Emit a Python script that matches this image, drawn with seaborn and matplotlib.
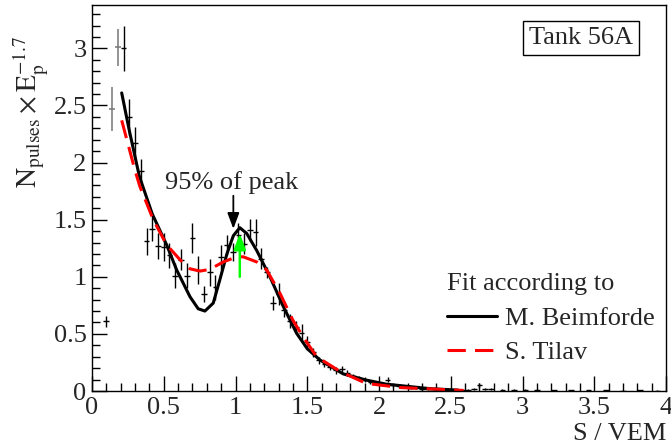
import numpy as np
import pandas as pd
import seaborn as sns
import matplotlib.pyplot as plt
from matplotlib.ticker import MultipleLocator

# ---------------- data ----------------
bin_x = [0.10, 0.22, 0.26, 0.30, 0.34, 0.38, 0.42, 0.46, 0.50, 0.54, 0.58, 0.62,
         0.66, 0.70, 0.74, 0.78, 0.82, 0.86, 0.90, 0.94, 0.98, 1.02, 1.06, 1.10,
         1.14, 1.18, 1.22, 1.26, 1.30, 1.34, 1.38, 1.42, 1.46, 1.50, 1.54, 1.58,
         1.62, 1.66, 1.70, 1.74, 1.78, 1.82, 1.86, 1.90, 1.94, 1.98, 2.02, 2.06,
         2.10, 2.14, 2.18, 2.22, 2.26, 2.30, 2.34, 2.38, 2.42, 2.46, 2.50, 2.54,
         2.58, 2.62, 2.66, 2.70, 2.74, 2.78, 2.86, 2.94, 3.02, 3.10, 3.22, 3.34,
         3.46, 3.58, 3.70, 3.82, 3.94]
bin_y = [0.61, 3.00, 2.40, 2.17, 1.93, 1.31, 1.42, 1.27, 1.26, 1.19, 1.01, 1.15,
         1.01, 1.34, 1.06, 0.85, 1.04, 0.91, 1.17, 1.28, 1.22, 1.37, 1.29, 1.41,
         1.39, 1.16, 1.04, 0.77, 0.85, 0.71, 0.61, 0.56, 0.51, 0.43, 0.34, 0.27,
         0.24, 0.21, 0.18, 0.19, 0.16, 0.13, 0.11, 0.10, 0.08, 0.07, 0.06, 0.10,
         0.05, 0.04, 0.035, 0.03, 0.025, 0.02, 0.02, 0.015, 0.015, 0.01, 0.01, 0.01,
         0.008, 0.012, 0.02, 0.05, 0.02, 0.015, 0.01, 0.012, 0.008, 0.01, 0.006, 0.008,
         0.005, 0.006, 0.004, 0.005, 0.004]
bin_err = [0.05, 0.20, 0.16, 0.14, 0.10, 0.12, 0.11, 0.11, 0.12, 0.11, 0.11, 0.09,
           0.11, 0.13, 0.12, 0.07, 0.12, 0.11, 0.11, 0.09, 0.08, 0.10, 0.09, 0.10,
           0.12, 0.09, 0.05, 0.06, 0.10, 0.06, 0.06, 0.05, 0.08, 0.05, 0.04, 0.03,
           0.03, 0.03, 0.03, 0.03, 0.025, 0.02, 0.02, 0.02, 0.02, 0.015, 0.015, 0.02,
           0.012, 0.01, 0.01, 0.01, 0.01, 0.008, 0.008, 0.008, 0.008, 0.006, 0.006, 0.006,
           0.006, 0.008, 0.01, 0.02, 0.01, 0.008, 0.006, 0.008, 0.006, 0.006, 0.005, 0.005,
           0.004, 0.004, 0.004, 0.004, 0.004]

grey_x = [0.14, 0.18]
grey_y = [2.47, 3.01]
grey_err = [0.19, 0.16]

beim_x = [0.207, 0.26, 0.33, 0.42, 0.52, 0.59, 0.683, 0.74, 0.787, 0.845, 0.89,
          0.94, 0.985, 1.03, 1.078, 1.148, 1.24, 1.333, 1.426, 1.50, 1.59, 1.75,
          1.91, 2.05, 2.22, 2.36, 2.55]
beim_y = [2.61, 2.28, 1.88, 1.55, 1.28, 1.06, 0.825, 0.72, 0.70, 0.77, 0.97,
          1.20, 1.36, 1.43, 1.38, 1.23, 1.00, 0.74, 0.505, 0.37, 0.27, 0.15,
          0.096, 0.06, 0.038, 0.02, 0.008]

tilav_x = [0.207, 0.30, 0.334, 0.427, 0.52, 0.613, 0.683, 0.753, 0.82, 0.915,
           1.008, 1.054, 1.148, 1.217, 1.31, 1.40, 1.47, 1.566, 1.73, 1.91,
           2.15, 2.33, 2.59]
tilav_y = [2.37, 1.93, 1.79, 1.50, 1.28, 1.15, 1.07, 1.05, 1.065, 1.13,
           1.175, 1.175, 1.13, 1.06, 0.855, 0.62, 0.475, 0.30, 0.17, 0.067,
           0.03, 0.02, 0.005]

bin_half_width = 0.02

# ---------------- style ----------------
sns.set_theme(style='ticks')
plt.rcParams['font.family'] = ['Liberation Serif', 'DejaVu Serif']
plt.rcParams['mathtext.fontset'] = 'stix'
FS = 19

fig = plt.figure(figsize=(6.71, 4.48), dpi=100)
ax = fig.add_axes([92/671, 1-391/448, 574/671, 386/448])

# data points
ax.errorbar(grey_x, grey_y, yerr=grey_err, xerr=bin_half_width, fmt='none',
            ecolor='#777777', elinewidth=1.1, capsize=0)
ax.errorbar(bin_x, bin_y, yerr=bin_err, xerr=bin_half_width, fmt='none',
            ecolor='black', elinewidth=1.0, capsize=0)

# fits
df_b = pd.DataFrame({'x': beim_x, 'y': beim_y})
df_t = pd.DataFrame({'x': tilav_x, 'y': tilav_y})
sns.lineplot(data=df_b, x='x', y='y', ax=ax, color='black', lw=2.2,
             sort=False, label='M. Beimforde', estimator=None)
sns.lineplot(data=df_t, x='x', y='y', ax=ax, color='red', lw=2.2,
             sort=False, label='S. Tilav', estimator=None)
ax.lines[-1].set_dashes([6, 3])

# annotations
ax.annotate('', xy=(0.985, 1.42), xytext=(0.985, 1.71),
            arrowprops=dict(arrowstyle='-|>,head_width=0.3,head_length=0.8',
                            color='black', lw=1.3, shrinkA=0, shrinkB=0))
ax.annotate('', xy=(1.03, 1.38), xytext=(1.03, 1.0),
            arrowprops=dict(arrowstyle='-|>,head_width=0.3,head_length=0.8',
                            color='#00ff00', lw=1.8, shrinkA=0, shrinkB=0))
ax.text(0.975, 1.83, '95% of peak', ha='center', va='center', fontsize=FS)

ax.text(0.852, 0.915, 'Tank 56A', transform=ax.transAxes, ha='center', va='center',
        fontsize=FS, bbox=dict(boxstyle='square,pad=0.22', fc='white', ec='black', lw=1))

leg = ax.legend(title='Fit according to', loc='upper left',
                bbox_to_anchor=(0.618, 0.305), frameon=False, fontsize=FS,
                title_fontsize=FS, handlelength=1.9, handletextpad=0.3,
                labelspacing=0.42, borderaxespad=0, borderpad=0)
leg._legend_box.align = 'left'

# axes
ax.set_xlim(0, 4)
ax.set_ylim(0, 3.38)
ax.xaxis.set_major_locator(MultipleLocator(0.5))
ax.xaxis.set_minor_locator(MultipleLocator(0.1))
ax.yaxis.set_major_locator(MultipleLocator(0.5))
ax.yaxis.set_minor_locator(MultipleLocator(0.1))
ax.xaxis.set_major_formatter(plt.FuncFormatter(lambda v, p: f'{v:g}'))
ax.yaxis.set_major_formatter(plt.FuncFormatter(lambda v, p: f'{v:g}'))
ax.tick_params(which='both', direction='in', top=False, right=False,
               labelsize=FS, color='black', width=1)
ax.tick_params(which='major', length=11, pad=4)
ax.tick_params(which='minor', length=5.5)
for s in ax.spines.values():
    s.set_linewidth(1.0)
    s.set_color('black')

ax.set_xlabel('S / VEM', fontsize=FS, ha='right', va='top')
ax.xaxis.set_label_coords(1.0, -0.083)
ax.set_ylabel(r'$\mathrm{N_{pulses} \times E_{p}^{-1.7}}$', fontsize=FS+1,
              ha='center', va='center')
ax.yaxis.set_label_coords(-0.108, 0.723)

fig.savefig('out.png', dpi=100)
